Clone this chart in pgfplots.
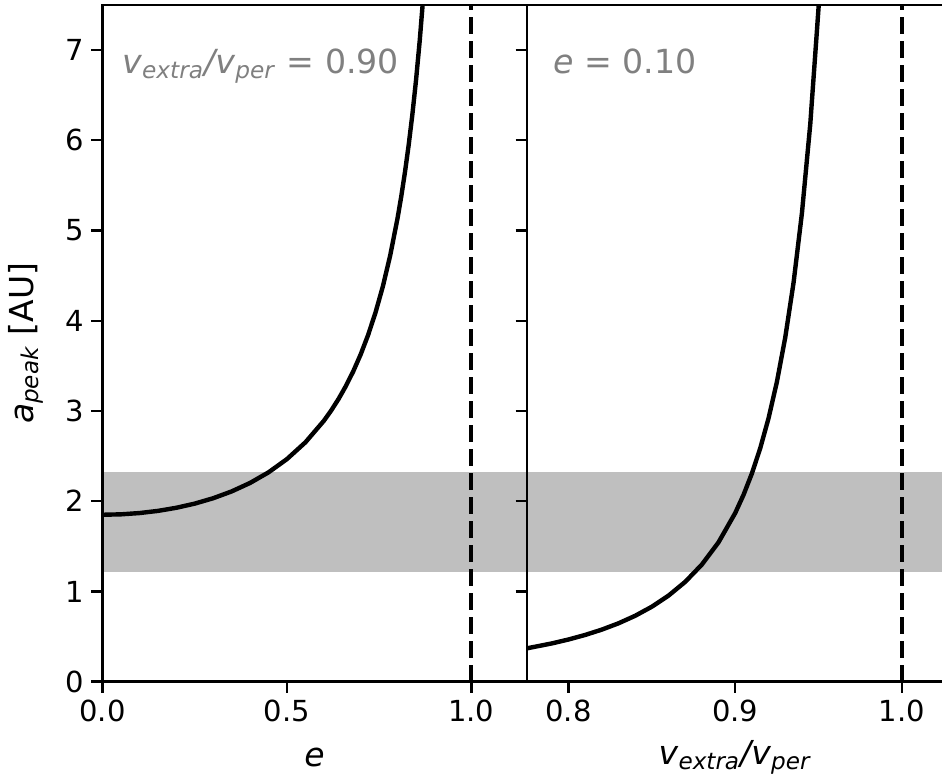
\documentclass[border=0pt]{standalone}
\usepackage{fontspec}
\setmainfont{DejaVu Sans}
\usepackage{pgfplots}
\pgfplotsset{compat=1.18}
\definecolor{bandgray}{HTML}{BFBFBF}
\definecolor{annogray}{HTML}{808080}

\pgfplotstableread{
e a
0.00 1.8500
0.05 1.8546
0.10 1.8687
0.15 1.8926
0.20 1.9271
0.25 1.9733
0.30 2.0330
0.35 2.1083
0.40 2.2024
0.45 2.3197
0.50 2.4667
0.55 2.6523
0.60 2.8906
0.62 3.0052
0.64 3.1335
0.66 3.2778
0.68 3.4412
0.70 3.6275
0.72 3.8414
0.74 4.0893
0.76 4.3797
0.78 4.7242
0.80 5.1389
0.81 5.3795
0.82 5.6471
0.83 5.9466
0.84 6.2840
0.85 6.6667
0.86 7.1045
0.87 7.6100
0.88 8.2004
}\lefttable

\pgfplotstableread{
f a
0.775 0.3692
0.790 0.4238
0.800 0.4673
0.810 0.5177
0.820 0.5769
0.830 0.6467
0.840 0.7301
0.850 0.8307
0.860 0.9536
0.870 1.1059
0.880 1.2979
0.890 1.5446
0.900 1.8690
0.905 2.0709
0.910 2.3074
0.915 2.5869
0.920 2.9203
0.925 3.3227
0.930 3.8143
0.935 4.4237
0.940 5.1917
0.945 6.1785
0.950 7.4760
0.955 9.2296
}\righttable

\begin{document}
\begin{tikzpicture}
\pgfplotsset{
  common/.style={
    scale only axis,
    axis on top,
    height=338.4pt,
    ymin=0, ymax=7.5,
    ytick={0,1,2,3,4,5,6,7},
    axis line style={line width=1.2pt},
    tick style={line width=1.2pt, black},
    major tick length=5.5pt,
    tick align=outside,
    xtick pos=bottom,
    ticklabel style={font=\fontsize{14.5}{17}\selectfont},
    /pgf/number format/assume math mode=true,
    every axis x label/.style={at={(axis description cs:0.5,-0.1113)},anchor=center,font=\fontsize{16.5}{20}\selectfont},
  },
}
\begin{axis}[common,
  at={(0pt,0pt)}, anchor=south west,
  width=212.1pt,
  xmin=0, xmax=1.15,
  xtick={0,0.5,1}, xticklabels={0.0,0.5,1.0},
  ytick pos=left,
  xlabel={\textit{e}},
  ylabel={\textit{a}\textsubscript{\textit{peak}} [AU]},
  every axis y label/.style={at={(axis description cs:-0.1803,0.5)},rotate=90,anchor=center,font=\fontsize{16.5}{20}\selectfont},
]
\addplot[fill=bandgray, draw=none] coordinates {(0,1.22) (1.15,1.22) (1.15,2.32) (0,2.32)} -- cycle;
\addplot[black, line width=2.1pt, dash pattern=on 8.5pt off 3.5pt] coordinates {(1,0) (1,7.5)};
\addplot[black, line width=2.2pt] table[x=e, y=a] {\lefttable};
\node[anchor=base west, inner sep=0pt, text=annogray, font=\fontsize{16.6}{20}\selectfont] at (axis cs:0.052,6.742)
  {\textit{v}\textsubscript{\textit{extra}}\textit{/v}\textsubscript{\textit{per}} = 0.90};
\end{axis}

\begin{axis}[common,
  at={(212.1pt,0pt)}, anchor=south west,
  width=208.5pt,
  xmin=0.775, xmax=1.025,
  xtick={0.8,0.9,1.0}, xticklabels={0.8,0.9,1.0},
  ytick pos=left, yticklabels={},
  xlabel={\textit{v}\textsubscript{\textit{extra}}\textit{/v}\textsubscript{\textit{per}}},
]
\addplot[fill=bandgray, draw=none] coordinates {(0.775,1.22) (1.025,1.22) (1.025,2.32) (0.775,2.32)} -- cycle;
\addplot[black, line width=2.1pt, dash pattern=on 8.5pt off 3.5pt] coordinates {(1,0) (1,7.5)};
\addplot[black, line width=2.2pt] table[x=f, y=a] {\righttable};
\node[anchor=base west, inner sep=0pt, text=annogray, font=\fontsize{16.6}{20}\selectfont] at (axis cs:0.7906,6.742)
  {\textit{e} = 0.10};
\end{axis}
\pgfresetboundingbox
\path (-51.25pt,-49.15pt) rectangle (419.75pt,340.85pt);
\end{tikzpicture}
\end{document}
